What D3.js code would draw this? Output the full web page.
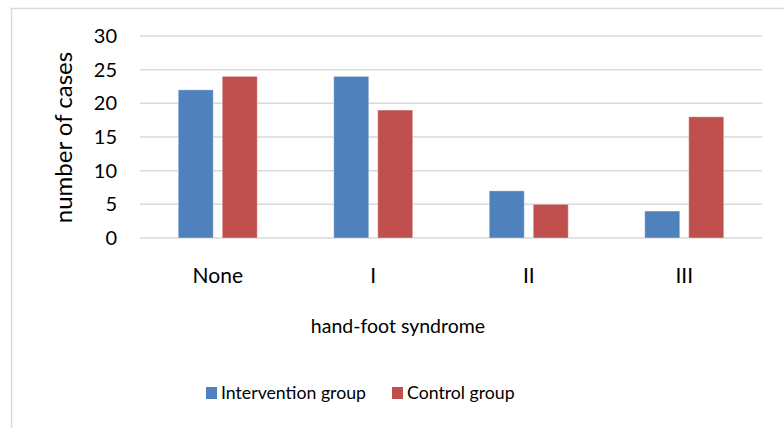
<!DOCTYPE html>
<html>
<head>
<meta charset="utf-8">
<script src="https://cdn.jsdelivr.net/npm/d3@7"></script>
<style>
  body { margin: 0; background: #fff; }
  svg { display: block; font-family: Lato, "Open Sans", sans-serif; }
</style>
</head>
<body>
<div id="chart"></div>
<script>
// Dữ liệu
const categories = ["None", "I", "II", "III"];
const seriesNames = ["Intervention group", "Control group"];
const interventionValues = [22, 24, 7, 4];
const controlValues = [24, 19, 5, 18];
const yTicks = [0, 5, 10, 15, 20, 25, 30];
const colors = ["#4f81bd", "#c0504d"];

const width = 784;
const height = 428;

const svg = d3.select("#chart")
    .append("svg")
    .attr("width", width)
    .attr("height", height);

// Khung ngoài
svg.append("rect")
    .attr("x", 11.5)
    .attr("y", 8.5)
    .attr("width", 820)
    .attr("height", 500)
    .attr("fill", "#fff")
    .attr("stroke", "#d9d9d9")
    .attr("stroke-width", 1.5);

const plot = { left: 140, right: 762, top: 36, bottom: 238 };

const yScale = d3.scaleLinear()
    .domain([0, 30])
    .range([plot.bottom, plot.top]);

const x0 = d3.scaleBand()
    .domain(categories)
    .range([plot.left, plot.right]);

const bw = x0.bandwidth();
const x1 = d3.scaleBand()
    .domain(seriesNames)
    .range([bw / 2 - 39.5, bw / 2 + 39.5])
    .paddingInner(0.2045);

// Lưới ngang
svg.append("g")
    .selectAll("line")
    .data(yTicks)
    .enter()
    .append("line")
    .attr("x1", plot.left)
    .attr("x2", plot.right)
    .attr("y1", d => yScale(d))
    .attr("y2", d => yScale(d))
    .attr("stroke", "#d9d9d9")
    .attr("stroke-width", 1.5);

// Trục y
const yAxis = svg.append("g")
    .attr("transform", `translate(${plot.left - 23}, 0)`)
    .call(d3.axisLeft(yScale).tickValues(yTicks).tickSize(0).tickPadding(0));
yAxis.select(".domain").remove();
yAxis.selectAll("text")
    .style("font-family", "Lato, sans-serif")
    .style("font-size", "20px")
    .attr("fill", "#000");

// Trục x
const xAxis = svg.append("g")
    .attr("transform", `translate(0, ${plot.bottom})`)
    .call(d3.axisBottom(x0).tickSize(0).tickPadding(0));
xAxis.select(".domain").remove();
xAxis.selectAll("text")
    .attr("dy", 0)
    .attr("y", 45)
    .style("font-family", "Lato, sans-serif")
    .style("font-size", "21px")
    .attr("fill", "#000");

// Cột
const rows = categories.map((c, i) => ({
    category: c,
    values: [interventionValues[i], controlValues[i]]
}));

const groups = svg.append("g")
    .selectAll("g")
    .data(rows)
    .enter()
    .append("g")
    .attr("transform", d => `translate(${x0(d.category)}, 0)`);

groups.selectAll("rect")
    .data(d => d.values.map((v, j) => ({ name: seriesNames[j], value: v, j })))
    .enter()
    .append("rect")
    .attr("x", d => x1(d.name))
    .attr("y", d => yScale(d.value))
    .attr("width", x1.bandwidth())
    .attr("height", d => yScale(0) - yScale(d.value))
    .attr("fill", d => colors[d.j])
    .attr("stroke", "#fff")
    .attr("stroke-opacity", 0.35)
    .attr("stroke-width", 1);

// Nhãn trục y
svg.append("text")
    .attr("transform", `translate(72, 137.5) rotate(-90)`)
    .attr("text-anchor", "middle")
    .style("font-size", "24px")
    .text("number of cases");

// Nhãn trục x
svg.append("text")
    .attr("x", 398)
    .attr("y", 333)
    .attr("text-anchor", "middle")
    .style("font-size", "19.5px")
    .text("hand-foot syndrome");

// Chú thích
const legend = svg.append("g");
const legendX = [206, 392];
seriesNames.forEach((name, i) => {
    legend.append("rect")
        .attr("x", legendX[i])
        .attr("y", 387)
        .attr("width", 11)
        .attr("height", 12)
        .attr("fill", colors[i]);
    legend.append("text")
        .attr("x", legendX[i] + 15)
        .attr("y", 399)
        .style("font-size", "17.7px")
        .text(name);
});
</script>
</body>
</html>
